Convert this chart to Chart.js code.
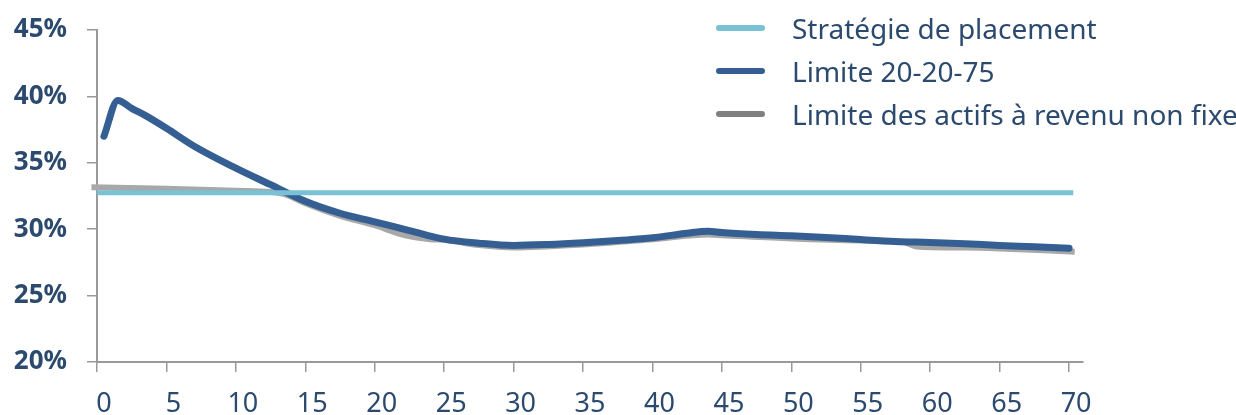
<!DOCTYPE html>
<html>
<head>
<meta charset="utf-8">
<script src="https://cdn.jsdelivr.net/npm/chart.js@4"></script>
<style>
  body { margin: 0; background: #fff; }
  #wrap { position: relative; width: 1236px; height: 415px; }
  #legend { position: absolute; left: 716px; top: 6px; font-family: 'Noto Sans', sans-serif; font-size: 28px; color: #2c4a6e; white-space: nowrap; }
  #legend .row { display: flex; align-items: center; height: 43px; }
  #legend .sw { width: 49px; height: 6px; margin-right: 27px; border-radius: 3px; flex: none; }
</style>
</head>
<body>
<div id="wrap">
  <canvas id="limitsChart" width="1236" height="415"></canvas>
  <div id="legend"></div>
</div>
<script>
// series labels
const seriesNames = ['Stratégie de placement', 'Limite 20-20-75', 'Limite des actifs à revenu non fixe'];

// Stratégie de placement (flat)
const strategyYears = [0, 70.3];
const strategyValues = [32.75, 32.75];

// Limite 20-20-75
const limitYears = [0.5, 1.5, 2.5, 3.5, 5, 7, 10, 12.5, 15, 17.5, 20, 22.5, 25, 27.5, 30, 32.5, 35, 37.5, 40, 42.5, 44, 45, 47.5, 50, 52.5, 55, 57.5, 60, 62.5, 65, 67.5, 70];
const limitValues = [37.0, 39.7, 39.1, 38.55, 37.6, 36.25, 34.6, 33.35, 32.1, 31.2, 30.55, 29.9, 29.25, 28.95, 28.78, 28.85, 28.98, 29.15, 29.35, 29.7, 29.85, 29.75, 29.6, 29.5, 29.38, 29.22, 29.08, 29.0, 28.9, 28.78, 28.68, 28.57];

// Limite des actifs à revenu non fixe
const nonFixedYears = [-0.4, 5, 10, 12.5, 13.5, 15, 17.5, 20, 22, 24, 25, 27.5, 30, 35, 40, 44, 45, 50, 55, 58, 59, 62.5, 65, 70.4];
const nonFixedValues = [33.15, 33.05, 32.9, 32.8, 32.65, 31.95, 31.0, 30.3, 29.6, 29.25, 29.2, 28.8, 28.62, 28.85, 29.25, 29.6, 29.55, 29.3, 29.15, 29.05, 28.7, 28.62, 28.55, 28.3];

// axis ticks
const yearTicks = [0, 5, 10, 15, 20, 25, 30, 35, 40, 45, 50, 55, 60, 65, 70];
const pctTicks = [20, 25, 30, 35, 40, 45];

const colors = ['#79c2d5', '#355f93', '#a8a8a8'];
const legendColors = ['#79c2d5', '#355f93', '#808080'];
const textColor = '#2c4a6e';

function toPoints(xs, ys) {
  return xs.map((x, i) => ({ x: x, y: ys[i] }));
}

const ctx = document.getElementById('limitsChart').getContext('2d');
new Chart(ctx, {
  type: 'line',
  data: {
    datasets: [
      {
        label: seriesNames[0],
        data: toPoints(strategyYears, strategyValues),
        borderColor: colors[0],
        borderWidth: 5,
        borderCapStyle: 'butt',
        pointRadius: 0
      },
      {
        label: seriesNames[1],
        data: toPoints(limitYears, limitValues),
        borderColor: colors[1],
        borderWidth: 7,
        borderCapStyle: 'round',
        borderJoinStyle: 'round',
        cubicInterpolationMode: 'monotone',
        pointRadius: 0
      },
      {
        label: seriesNames[2],
        data: toPoints(nonFixedYears, nonFixedValues),
        borderColor: colors[2],
        borderWidth: 6,
        borderCapStyle: 'butt',
        borderJoinStyle: 'round',
        cubicInterpolationMode: 'monotone',
        pointRadius: 0,
        clip: false
      }
    ]
  },
  options: {
    responsive: false,
    animation: false,
    layout: { padding: { top: 30, right: 153, left: 0, bottom: 0 } },
    scales: {
      x: {
        type: 'linear',
        min: 0,
        max: 71,
        afterBuildTicks: scale => { scale.ticks = yearTicks.map(v => ({ value: v })); },
        afterFit: scale => { scale.height = 53; scale.paddingLeft = 0; scale.paddingRight = 0; },
        border: { display: true, color: '#999999', width: 2 },
        grid: { drawOnChartArea: false, drawTicks: true, tickLength: 10, color: '#999999', lineWidth: 1.5 },
        ticks: {
          font: { family: 'Noto Sans', size: 27 },
          color: textColor,
          padding: 16,
          labelOffset: 7,
          maxRotation: 0,
          autoSkip: false
        }
      },
      y: {
        min: 20,
        max: 45,
        afterBuildTicks: scale => { scale.ticks = pctTicks.map(v => ({ value: v })); },
        afterFit: scale => { scale.width = 97; scale.paddingTop = 0; scale.paddingBottom = 0; },
        border: { display: true, color: '#999999', width: 2 },
        grid: { drawOnChartArea: false, drawTicks: true, tickLength: 10, color: '#999999', lineWidth: 1.5 },
        ticks: {
          font: { family: 'Noto Sans', size: 26, weight: 'bold' },
          color: textColor,
          padding: 20,
          callback: v => v + '%'
        }
      }
    },
    plugins: {
      legend: { display: false },
      tooltip: { enabled: false }
    }
  }
});

// legend as html, right top
const legendEl = document.getElementById('legend');
seriesNames.forEach((name, i) => {
  const row = document.createElement('div');
  row.className = 'row';
  const sw = document.createElement('span');
  sw.className = 'sw';
  sw.style.background = legendColors[i];
  const txt = document.createElement('span');
  txt.textContent = name;
  row.appendChild(sw);
  row.appendChild(txt);
  legendEl.appendChild(row);
});
</script>
</body>
</html>
